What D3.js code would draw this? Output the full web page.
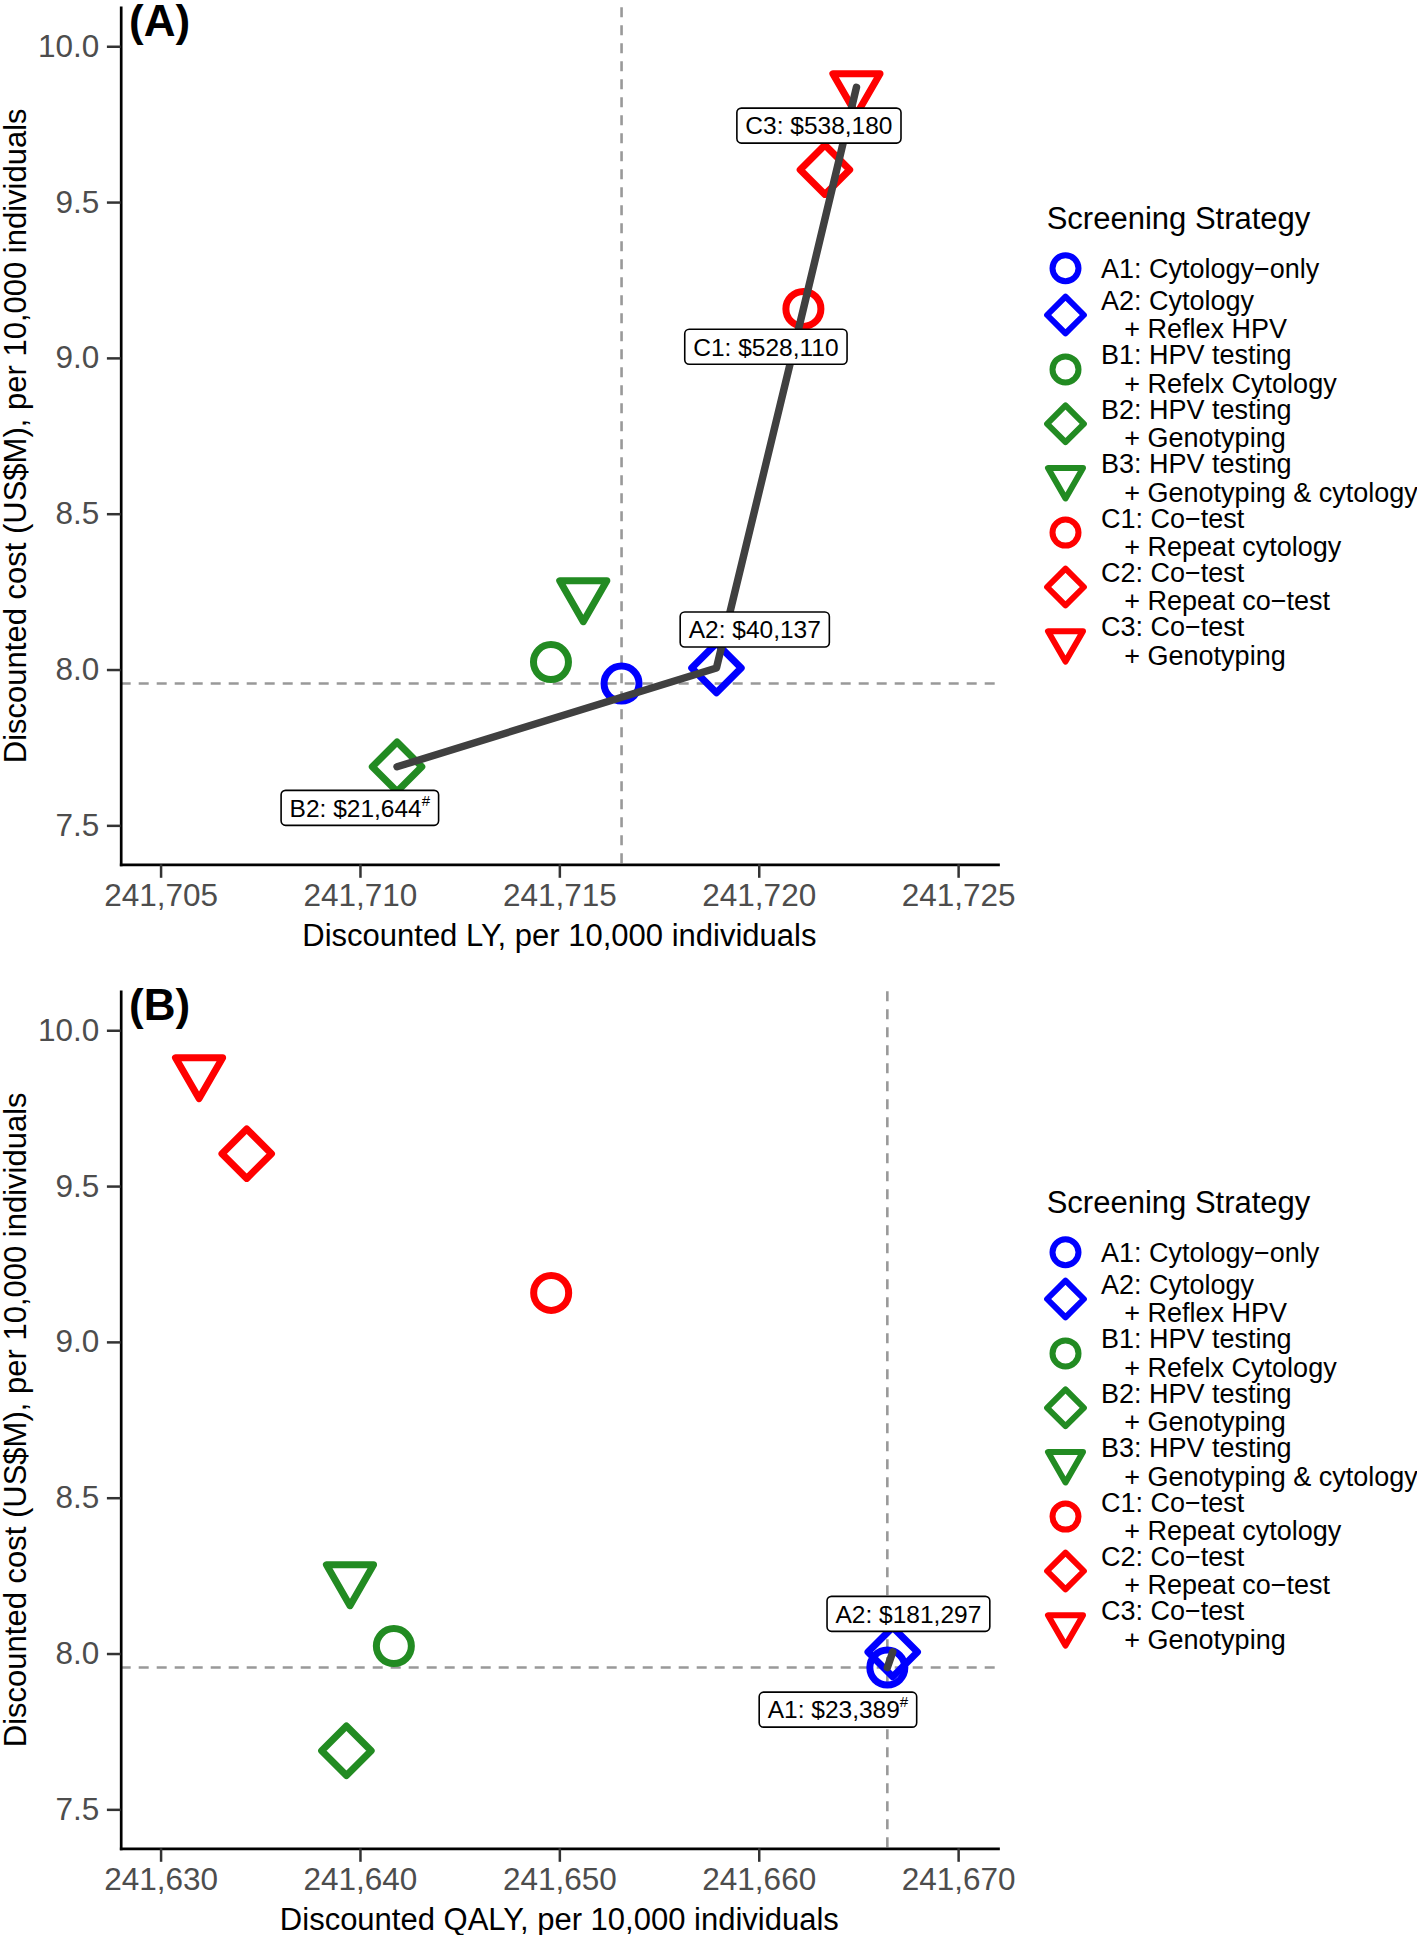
<!DOCTYPE html>
<html>
<head>
<meta charset="utf-8">
<script src="https://cdn.jsdelivr.net/npm/d3@7"></script>
<style>
  body { margin: 0; background: #fff; }
  text { font-family: "Liberation Sans", Arial, sans-serif; }
</style>
</head>
<body>
<div id="chart-area"></div>
<script>
// strategies, in legend order
const strategies = ["A1", "A2", "B1", "B2", "B3", "C1", "C2", "C3"];
const legendLine1 = ["A1: Cytology\u2212only", "A2: Cytology", "B1: HPV testing", "B2: HPV testing",
  "B3: HPV testing", "C1: Co\u2212test", "C2: Co\u2212test", "C3: Co\u2212test"];
const legendLine2 = ["", "+ Reflex HPV", "+ Refelx Cytology", "+ Genotyping",
  "+ Genotyping & cytology", "+ Repeat cytology", "+ Repeat co\u2212test", "+ Genotyping"];
const strategyColors = ["blue", "blue", "forestgreen", "forestgreen", "forestgreen", "red", "red", "red"];
const strategyShapes = ["circle", "diamond", "circle", "diamond", "triangle", "circle", "diamond", "triangle"];

// discounted cost, US$M per 10,000
const costM = [7.955, 8.005, 8.024, 7.688, 8.241, 9.157, 9.604, 9.868];
// discounted LY per 10,000 (panel A)
const lifeYears = [241716.56, 241718.94, 241714.79, 241710.93, 241715.60, 241721.12, 241721.66, 241722.45];
// discounted QALY per 10,000 (panel B)
const qalys = [241666.45, 241666.72, 241641.70, 241639.32, 241639.50, 241649.59, 241634.32, 241631.93];

// efficient frontiers
const frontierA = ["B2", "A2", "C1", "C3"];
const frontierB = ["A1", "A2"];

// ICER labels
const labelIdsA = ["C3", "C1", "A2", "B2"];
const labelTextA = ["C3: $538,180", "C1: $528,110", "A2: $40,137", "B2: $21,644"];
const labelSupA = ["", "", "", "#"];
const labelIdsB = ["A2", "A1"];
const labelTextB = ["A2: $181,297", "A1: $23,389"];
const labelSupB = ["", "#"];

const yTicks = [7.5, 8.0, 8.5, 9.0, 9.5, 10.0];
const xTicksA = [241705, 241710, 241715, 241720, 241725];
const xTicksB = [241630, 241640, 241650, 241660, 241670];

// layout (pixels)
const W = 1417, H = 1935;
const plotLeft = 120.7, plotRight = 998, plotTop = 7.3, plotBottom = 864.3;
const panelShift = 984;
const offsetsA = [[-37.5, 38.2], [-37.5, 37.8], [38.3, -38.5], [-37.2, 41.1]];
const offsetsB = [[15.7, -38.1], [-49.4, 42.1]];
const R = 17.5, legendR = 13;

var svg = d3.select("#chart-area")
  .append("svg")
  .attr("width", W)
  .attr("height", H);

function shapePath(shape, r) {
  if (shape == "circle") {
    return "M" + (-r) + ",0A" + r + "," + r + " 0 1,0 " + r + ",0A" + r + "," + r + " 0 1,0 " + (-r) + ",0Z";
  }
  if (shape == "diamond") {
    var s = Math.SQRT2 * r;
    return "M0," + (-s) + "L" + s + ",0L0," + s + "L" + (-s) + ",0Z";
  }
  // down-pointing triangle, centred like R's pch 6
  var a = 1.5551 * r, b = 1.3468 * r, c = 0.7776 * r;
  return "M" + (-b) + "," + (-c) + "L" + b + "," + (-c) + "L0," + a + "Z";
}

function drawPanel(dy, tag, xVals, xTicks, xTitle, frontier, labelIds, labelText, labelSup, offsets) {
  var g = svg.append("g").attr("transform", "translate(0," + dy + ")");

  var span = xTicks[xTicks.length - 1] - xTicks[0];
  var x = d3.scaleLinear()
    .domain([xTicks[0] - span * 0.05, xTicks[xTicks.length - 1] + span * 0.05])
    .range([plotLeft, plotRight]);
  var y = d3.scaleLinear()
    .domain([7.5 - 0.125, 10 + 0.125])
    .range([plotBottom, plotTop]);

  var pts = strategies.map(function (s, i) {
    return { id: s, x: x(xVals[i]), y: y(costM[i]), color: strategyColors[i], shape: strategyShapes[i] };
  });
  var byId = {};
  pts.forEach(function (p) { byId[p.id] = p; });

  // dashed reference lines through A1
  var ref = byId["A1"];
  g.append("line").attr("x1", ref.x).attr("x2", ref.x).attr("y1", plotTop).attr("y2", plotBottom)
    .attr("stroke", "#999").attr("stroke-width", 2.6).attr("stroke-dasharray", "10,8");
  g.append("line").attr("x1", plotLeft).attr("x2", plotRight).attr("y1", ref.y).attr("y2", ref.y)
    .attr("stroke", "#999").attr("stroke-width", 2.6).attr("stroke-dasharray", "10,8");

  // axes
  var xAxis = g.append("g")
    .attr("transform", "translate(0," + plotBottom + ")")
    .call(d3.axisBottom(x).tickValues(xTicks).tickFormat(d3.format(",")).tickSize(13.5).tickSizeOuter(0).tickPadding(5.5));
  var yAxis = g.append("g")
    .attr("transform", "translate(" + plotLeft + ",0)")
    .call(d3.axisLeft(y).tickValues(yTicks).tickFormat(d3.format(".1f")).tickSize(13.8).tickSizeOuter(0).tickPadding(7.6));
  [xAxis, yAxis].forEach(function (ax) {
    ax.select(".domain").attr("stroke", "#000").attr("stroke-width", 2.7).attr("stroke-linecap", "square");
    ax.selectAll(".tick line").attr("stroke", "#333").attr("stroke-width", 2.5);
    ax.selectAll(".tick text").attr("fill", "#4d4d4d").attr("font-size", 31.5)
      .attr("font-family", "Liberation Sans, Arial, sans-serif");
  });

  // markers
  g.selectAll("path.pt")
    .data(pts)
    .enter()
    .append("path")
    .attr("class", "pt")
    .attr("transform", function (d) { return "translate(" + d.x + "," + d.y + ")"; })
    .attr("d", function (d) { return shapePath(d.shape, R); })
    .attr("fill", "none")
    .attr("stroke", function (d) { return d.color; })
    .attr("stroke-width", 7)
    .attr("stroke-linejoin", "round");

  // frontier
  g.append("path")
    .datum(frontier.map(function (id) { return byId[id]; }))
    .attr("d", d3.line().x(function (d) { return d.x; }).y(function (d) { return d.y; }))
    .attr("fill", "none")
    .attr("stroke", "#404040")
    .attr("stroke-width", 7.5)
    .attr("stroke-linecap", "round")
    .attr("stroke-linejoin", "round");

  // ICER labels
  labelIds.forEach(function (id, i) {
    var p = byId[id];
    var cx = p.x + offsets[i][0], cy = p.y + offsets[i][1];
    var lg = g.append("g");
    var rect = lg.append("rect");
    var t = lg.append("text")
      .attr("font-size", 24.5)
      .attr("fill", "#000")
      .attr("y", cy + 8.8)
      .text(labelText[i]);
    if (labelSup[i]) {
      t.append("tspan").attr("font-size", 15).attr("dy", -11).text(labelSup[i]);
    }
    var w = t.node().getComputedTextLength();
    t.attr("x", cx - w / 2);
    rect.attr("x", cx - w / 2 - 8.5).attr("y", cy - 17.5)
      .attr("width", w + 17).attr("height", 35)
      .attr("rx", 4.5)
      .attr("fill", "#fff").attr("stroke", "#000").attr("stroke-width", 1.6);
  });

  // panel tag
  g.append("text").attr("x", 129).attr("y", 36)
    .attr("font-size", 44).attr("font-weight", "bold").text(tag);

  // axis titles
  g.append("text").attr("x", (plotLeft + plotRight) / 2).attr("y", 945.5)
    .attr("text-anchor", "middle").attr("font-size", 31).text(xTitle);
  g.append("text")
    .attr("transform", "translate(26," + (plotTop + plotBottom) / 2 + ") rotate(-90)")
    .attr("text-anchor", "middle").attr("font-size", 31)
    .text("Discounted cost (US$M), per 10,000 individuals");

  // legend
  var leg = g.append("g");
  leg.append("text").attr("x", 1046.7).attr("y", 229).attr("font-size", 31).text("Screening Strategy");
  strategies.forEach(function (s, i) {
    var base = i == 0 ? 278.3 : 310 + (i - 1) * 54.4;
    var ky = i == 0 ? 268.3 : base + 5;
    leg.append("path")
      .attr("transform", "translate(1065.5," + ky + ")")
      .attr("d", shapePath(strategyShapes[i], legendR))
      .attr("fill", "none")
      .attr("stroke", strategyColors[i])
      .attr("stroke-width", 6)
      .attr("stroke-linejoin", "round");
    leg.append("text").attr("x", 1101).attr("y", base).attr("font-size", 27).text(legendLine1[i]);
    if (legendLine2[i]) {
      leg.append("text").attr("x", 1124.3).attr("y", base + 28.3).attr("font-size", 27).text(legendLine2[i]);
    }
  });
}

drawPanel(0, "(A)", lifeYears, xTicksA, "Discounted LY, per 10,000 individuals",
  frontierA, labelIdsA, labelTextA, labelSupA, offsetsA);
drawPanel(panelShift, "(B)", qalys, xTicksB, "Discounted QALY, per 10,000 individuals",
  frontierB, labelIdsB, labelTextB, labelSupB, offsetsB);
</script>
</body>
</html>
